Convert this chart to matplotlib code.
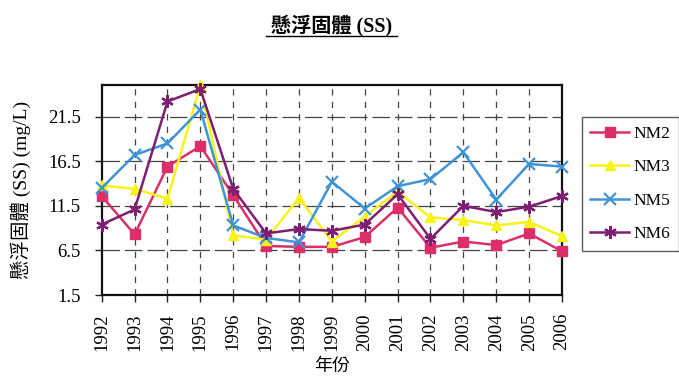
import matplotlib
matplotlib.use("Agg")
import matplotlib.pyplot as plt

years = [1992, 1993, 1994, 1995, 1996, 1997, 1998, 1999, 2000, 2001, 2002, 2003, 2004, 2005, 2006]
nm2 = [12.6, 8.3, 15.9, 18.2, 12.7, 7.0, 6.9, 6.9, 8.0, 11.3, 6.8, 7.5, 7.1, 8.4, 6.4]
nm3 = [13.8, 13.4, 12.3, 25.0, 8.2, 7.7, 12.4, 7.5, 10.3, 13.1, 10.2, 9.9, 9.3, 9.7, 8.1]
nm5 = [13.5, 17.2, 18.5, 22.3, 9.3, 7.9, 7.4, 14.2, 11.2, 13.7, 14.5, 17.5, 12.2, 16.2, 15.9]
nm6 = [9.4, 11.1, 23.2, 24.6, 13.4, 8.4, 8.9, 8.7, 9.4, 12.8, 7.8, 11.5, 10.8, 11.4, 12.6]
series_names = ["NM2", "NM3", "NM5", "NM6"]
y_ticks = [1.5, 6.5, 11.5, 16.5, 21.5]

serif = ["Liberation Serif", "Noto Sans CJK TC"]
plt.rcParams["font.family"] = serif

fig = plt.figure(figsize=(6.79, 3.81), dpi=100)
ax = fig.add_axes([0.1498, 0.2257, 0.6779, 0.5512])

styles = [
    dict(color="#dc2f6a", marker="s", markersize=6.5),
    dict(color="#f6f21a", marker="^", markersize=7),
    dict(color="#3f94d8", marker="x", markersize=8, markeredgewidth=1.6),
    dict(color="#7d1e72", marker=(6, 2, 0), markersize=9, markeredgewidth=1.6),
]
for name, vals, st in zip(series_names, [nm2, nm3, nm5, nm6], styles):
    ax.plot(years, vals, linewidth=1.8, label=name, clip_on=False, zorder=3, **st)

ax.set_xlim(1992, 2006)
ax.set_ylim(1.5, 25.05)
ax.set_xticks(years)
ax.set_xticklabels([str(y) for y in years], rotation=90, fontsize=13.5)
ax.set_yticks(y_ticks)
ax.set_yticklabels([str(v) for v in y_ticks], fontsize=13.5)
ax.tick_params(axis="x", direction="out", length=5, width=1, color="#222222", pad=8)
ax.tick_params(axis="y", direction="out", length=5, width=1, color="#222222", pad=10)

for v in y_ticks[1:]:
    ax.axhline(v, color="#444444", linewidth=0.9, linestyle=(0, (14, 4)), zorder=1)
for yr in years[1:-1]:
    ax.axvline(yr, color="#444444", linewidth=0.9, linestyle=(0, (5, 5)), zorder=1)

for s in ax.spines.values():
    s.set_linewidth(1.6)
    s.set_color("#111111")

ax.set_ylabel("懸浮固體 (SS) (mg/L)", fontsize=14, labelpad=12)
ax.set_xlabel("年份", fontsize=13, labelpad=5)

fig.text(0.489, 0.934, "懸浮固體 (SS)", ha="center", va="center",
         fontsize=14.5, fontweight="bold")
fig.add_artist(plt.Line2D([0.392, 0.585], [0.905, 0.905], color="black", linewidth=1.0,
                          transform=fig.transFigure))

leg = ax.legend(loc="upper left", bbox_to_anchor=(1.043, 0.848), fontsize=12.5,
                frameon=True, fancybox=False, edgecolor="#333333",
                handlelength=2.2, labelspacing=1.0, borderpad=0.5, handletextpad=0.3,
                borderaxespad=0)
leg.get_frame().set_linewidth(1.0)

fig.savefig("out.png", dpi=100)
